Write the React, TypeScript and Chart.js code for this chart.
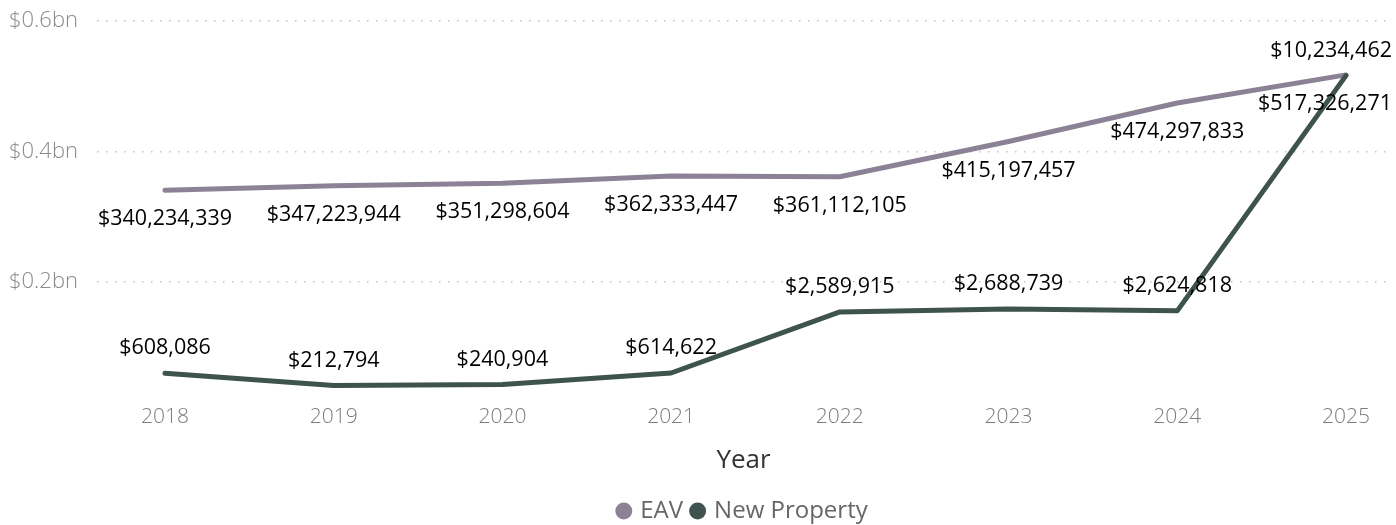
import React, { useEffect, useRef } from 'react';
import { Chart, registerables } from 'chart.js';

Chart.register(...registerables);

const years = ['2018', '2019', '2020', '2021', '2022', '2023', '2024', '2025'];
const eav = [340234339, 347223944, 351298604, 362333447, 361112105, 415197457, 474297833, 517326271];
const newProperty = [608086, 212794, 240904, 614622, 2589915, 2688739, 2624818, 10234462];
const yTicks = [0.2e9, 0.4e9, 0.6e9];

const FONT = '"Segoe UI", "Open Sans", sans-serif';
const EAV_COLOR = '#8B8395';
const NP_COLOR = '#3E524E';

const labelPlugin = {
  id: 'valueLabels',
  afterDatasetsDraw(chart: any) {
    const ctx = chart.ctx;
    ctx.save();
    ctx.font = `21.5px ${FONT}`;
    ctx.fillStyle = '#000';
    ctx.textAlign = 'center';
    ctx.textBaseline = 'middle';
    chart.data.datasets.forEach((ds: any, di: number) => {
      const meta = chart.getDatasetMeta(di);
      const off = di === 0 ? 29 : -25;
      meta.data.forEach((el: any, i: number) => {
        const v = ds.data[i].y;
        const text = '$' + v.toLocaleString('en-US');
        const w = ctx.measureText(text).width;
        let x = el.x;
        const maxRight = chart.width - 4;
        if (x + w / 2 > maxRight) x = maxRight - w / 2;
        ctx.fillText(text, x, el.y + off);
      });
    });
    ctx.restore();
  },
};

export default function App() {
  const ref = useRef<HTMLCanvasElement>(null);
  useEffect(() => {
    document.body.style.margin = '0';
    const chart = new Chart(ref.current!, {
      type: 'line',
      data: {
        datasets: [
          {
            label: 'EAV',
            data: eav.map((v, i) => ({ x: i, y: v })),
            borderColor: EAV_COLOR,
            backgroundColor: EAV_COLOR,
            borderWidth: 5,
            borderCapStyle: 'round',
            borderJoinStyle: 'round',
            pointRadius: 0,
            yAxisID: 'y',
            order: 2,
          },
          {
            label: 'New Property',
            data: newProperty.map((v, i) => ({ x: i, y: v })),
            borderColor: NP_COLOR,
            backgroundColor: NP_COLOR,
            borderWidth: 5,
            borderCapStyle: 'round',
            borderJoinStyle: 'round',
            pointRadius: 0,
            yAxisID: 'y1',
            order: 1,
          },
        ],
      },
      options: {
        responsive: false,
        animation: false,
        layout: { padding: { top: 21, right: 6, left: 9, bottom: -8 } },
        plugins: {
          tooltip: { enabled: false },
          legend: {
            position: 'bottom',
            fullSize: false,
            labels: {
              usePointStyle: true,
              pointStyle: 'circle',
              boxWidth: 9,
              boxHeight: 12,
              padding: 10,
              color: '#666',
              font: { family: FONT, size: 24 },
              sort: (a: any, b: any) => a.datasetIndex - b.datasetIndex,
              generateLabels: (chart: any) =>
                Chart.defaults.plugins.legend.labels.generateLabels(chart).map((l: any) => ({
                  ...l,
                  lineWidth: 0,
                  fillStyle: l.datasetIndex === 0 ? EAV_COLOR : NP_COLOR,
                  strokeStyle: 'rgba(0,0,0,0)',
                })),
            },
          },
        },
        scales: {
          x: {
            type: 'linear',
            min: -0.403,
            max: 7.261,
            grid: { display: false, drawTicks: false },
            border: { display: false },
            afterBuildTicks: (s: any) => {
              s.ticks = years.map((_, i) => ({ value: i }));
            },
            afterFit: (s: any) => {
              s.height = 88;
            },
            ticks: {
              autoSkip: false,
              maxRotation: 0,
              padding: 3,
              color: '#7c7c7c',
              font: { family: FONT, size: 21, weight: '300' },
              callback: (v: any) => years[v] ?? '',
            },
            title: {
              display: true,
              text: 'Year',
              color: '#333',
              font: { family: FONT, size: 26 },
              padding: { top: 0, bottom: 13 },
            },
          },
          y: {
            position: 'left',
            min: 0.01716e9,
            max: 0.6e9,
            afterBuildTicks: (s: any) => {
              s.ticks = yTicks.map((v) => ({ value: v }));
            },
            afterFit: (s: any) => {
              s.width = 88;
            },
            grid: {
              color: '#c4c4c4',
              lineWidth: 1.5,
              drawTicks: false,
            },
            border: { display: false, dash: [1.5, 7.5] },
            ticks: {
              padding: 0,
              crossAlign: 'far',
              color: '#8a8a8a',
              font: { family: FONT, size: 22, weight: '300' },
              callback: (v: any) => '$' + (v / 1e9).toFixed(1) + 'bn',
            },
          },
          y1: {
            position: 'right',
            display: false,
            min: -0.291e6,
            max: 12e6,
            grid: { display: false },
          },
        },
      },
      plugins: [labelPlugin],
    } as any);
    return () => chart.destroy();
  }, []);
  return (
    <div style={{ width: 1396, height: 525 }}>
      <canvas ref={ref} width={1396} height={525} style={{ display: 'block' }} />
    </div>
  );
}
